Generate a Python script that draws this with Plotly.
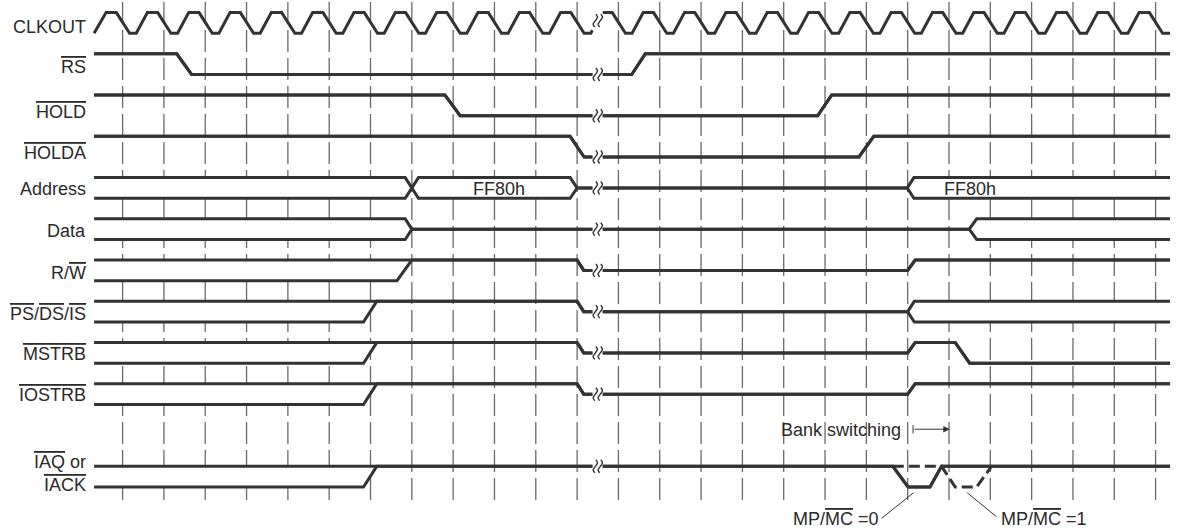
import math
import plotly.graph_objects as go

# ---------------- data (time in clock cycles, k = CLKOUT falling edge index) ----------------
N_CYCLES = 26            # dashed reference lines / clock edges at k = 0..25
T_START, T_END = -0.69, 25.35
BREAK_LO, BREAK_HI = 11.37, 11.62
BREAK_MARKS = [11.44, 11.56]

CLK_SHAPE_T = [-0.40, -0.15, 0.17, 0.33]
CLK_SHAPE_S = ["H", "H", "L", "L"]

RS_EDGES = [(1.31, 1.67), (12.32, 12.65)]
RS_STATES = ["H", "L", "H"]
HOLD_EDGES = [(7.80, 8.17), (16.82, 17.16)]
HOLD_STATES = ["H", "L", "H"]
HOLDA_EDGES = [(10.83, 11.17), (17.82, 18.18)]
HOLDA_STATES = ["H", "L", "H"]
ADDR_EDGES = [(6.84, 7.16), (10.83, 11.00), (18.99, 19.15)]
ADDR_STATES = ["X", "B", "Z", "B"]
ADDR_VALUES = ["FF80h", "FF80h"]
ADDR_VALUE_T = [9.11, 20.50]
DATA_EDGES = [(6.84, 7.00), (20.49, 20.67)]
DATA_STATES = ["X", "Z", "X"]
RW_EDGES = [(6.64, 7.00), (11.00, 11.16), (19.00, 19.18)]
RW_STATES = ["X", "H", "Z", "H"]
PS_EDGES = [(5.83, 6.15), (11.00, 11.16), (19.00, 19.16)]
PS_STATES = ["X", "H", "Z", "X"]
MSTRB_EDGES = [(5.83, 6.15), (11.00, 11.16), (19.00, 19.18), (20.15, 20.50)]
MSTRB_STATES = ["X", "H", "Z", "H", "L"]
IOSTRB_EDGES = [(5.83, 6.15), (11.00, 11.16), (19.00, 19.18)]
IOSTRB_STATES = ["X", "H", "Z", "H"]
IAQ_EDGES = [(5.83, 6.15), (18.64, 19.01), (19.54, 19.82)]
IAQ_STATES = ["X", "H", "L", "H"]
IAQ_ALT_T = [18.64, 19.82, 20.15, 20.67, 21.03]
IAQ_ALT_S = ["H", "H", "L", "L", "H"]

ROWS = [1, 2, 3, 4, 5, 6, 7, 8, 9, 11]
SIGNALS = [(RS_EDGES, RS_STATES), (HOLD_EDGES, HOLD_STATES), (HOLDA_EDGES, HOLDA_STATES),
           (ADDR_EDGES, ADDR_STATES), (DATA_EDGES, DATA_STATES), (RW_EDGES, RW_STATES),
           (PS_EDGES, PS_STATES), (MSTRB_EDGES, MSTRB_STATES), (IOSTRB_EDGES, IOSTRB_STATES),
           (IAQ_EDGES, IAQ_STATES)]

OV = '<span style="text-decoration:overline;text-decoration-thickness:2px">{}</span>'
LABELS = ["CLKOUT", OV.format("RS"), OV.format("HOLD"), OV.format("HOLDA"), "Address", "Data",
          "R/" + OV.format("W"),
          OV.format("PS") + "/" + OV.format("DS") + "/" + OV.format("IS"),
          OV.format("MSTRB"), OV.format("IOSTRB"), OV.format("IAQ") + " or", OV.format("IACK")]
LABEL_ROWS = [0, 1, 2, 3, 4, 5, 6, 7, 8, 9, 11, 11]

# ---------------- layout constants ----------------
LEVEL = {"H": 0.0, "L": 0.5, "Z": 0.25}
LABEL_DY = [0.342, 0.324, 0.402, 0.404, 0.288, 0.290, 0.313, 0.299, 0.269, 0.282, -0.105, 0.445]
LABEL_X = -0.83
INK = "#333333"
GRID = "#6a6a6a"
FONT = dict(family="Liberation Sans, Arial, sans-serif", size=18, color="#2a2a2a")
PX0, DX = 122.6, 41.32
PY0, DY = 12.6, 41.25
W, H = 1181, 531


def lv(row, s, which):
    if s in ("X", "B"):
        return row + (0.0 if which == 0 else 0.5)
    return row + LEVEL[s]


def build_paths(row, edges, states):
    ca, cb = lv(row, states[0], 0), lv(row, states[0], 1)
    a, b = [(T_START, ca)], [(T_START, cb)]
    for (t0, t1), sp, sn in zip(edges, states[:-1], states[1:]):
        if sp in ("X", "B") and sn in ("X", "B"):
            ta, tb = cb, ca
        else:
            ta, tb = lv(row, sn, 0), lv(row, sn, 1)
        a += [(t0, ca), (t1, ta)]
        b += [(t0, cb), (t1, tb)]
        ca, cb = ta, tb
    a.append((T_END, ca))
    b.append((T_END, cb))
    return a, b


def interp(pts, t):
    for (x0, y0), (x1, y1) in zip(pts[:-1], pts[1:]):
        if x0 <= t <= x1:
            if x1 == x0:
                return y1
            return y0 + (y1 - y0) * (t - x0) / (x1 - x0)
    return pts[-1][1]


def with_gap(pts):
    left = [p for p in pts if p[0] < BREAK_LO] + [(BREAK_LO, interp(pts, BREAK_LO))]
    right = [(BREAK_HI, interp(pts, BREAK_HI))] + [p for p in pts if p[0] > BREAK_HI]
    xs = [p[0] for p in left] + [None] + [p[0] for p in right]
    ys = [p[1] for p in left] + [None] + [p[1] for p in right]
    return xs, ys


fig = go.Figure()

# dashed cycle reference lines
gx, gy = [], []
for k in range(N_CYCLES):
    gx += [k, k, None]
    gy += [-0.26, 11.96, None]
fig.add_trace(go.Scatter(x=gx, y=gy, mode="lines", line=dict(color=GRID, width=1.3, dash="22px,6px"),
                         hoverinfo="skip"))

# clock
clk = [(T_START, LEVEL["L"])]
for k in range(N_CYCLES):
    for dt, s in zip(CLK_SHAPE_T, CLK_SHAPE_S):
        clk.append((k + dt, LEVEL[s]))
clk.append((T_END, LEVEL["L"]))

all_paths = [(0, [clk])]
for row, (edges, states) in zip(ROWS, SIGNALS):
    a, b = build_paths(row, edges, states)
    # white fill inside bus regions (hides reference lines)
    if any(s in ("X", "B") for s in states):
        poly = a + b[::-1]
        fig.add_trace(go.Scatter(x=[p[0] for p in poly], y=[p[1] for p in poly], mode="lines",
                                 fill="toself", fillcolor="white", line=dict(width=0, color="rgba(0,0,0,0)"),
                                 hoverinfo="skip"))
    all_paths.append((row, [a, b]))

break_marks_x, break_marks_y = [], []
for row, paths in all_paths:
    for p in paths:
        xs, ys = with_gap(p)
        fig.add_trace(go.Scatter(x=xs, y=ys, mode="lines", line=dict(color=INK, width=3),
                                 hoverinfo="skip"))
    yc = interp(paths[0], 0.5 * (BREAK_LO + BREAK_HI))
    for xm in BREAK_MARKS:
        n = 16
        for i in range(n + 1):
            s = i / n
            break_marks_x.append(xm + 0.045 * math.sin(2 * math.pi * s) + 0.03 * (0.5 - s))
            break_marks_y.append(yc - 0.16 + 0.32 * s)
        break_marks_x.append(None)
        break_marks_y.append(None)

fig.add_trace(go.Scatter(x=break_marks_x, y=break_marks_y, mode="lines",
                         line=dict(color=INK, width=1.4), hoverinfo="skip"))

# IAQ alternative (dashed) path
fig.add_trace(go.Scatter(x=IAQ_ALT_T, y=[11 + LEVEL[s] for s in IAQ_ALT_S], mode="lines",
                         line=dict(color=INK, width=3, dash="11px,5px"), hoverinfo="skip"))

# leader lines for MP/MC notes
fig.add_trace(go.Scatter(x=[18.37, 19.14, None, 21.15, 20.44], y=[12.26, 11.64, None, 12.22, 11.64],
                         mode="lines", line=dict(color=INK, width=1), hoverinfo="skip"))
# bank switching arrow tail bar
fig.add_trace(go.Scatter(x=[19.13, 19.13], y=[10.0, 10.2], mode="lines",
                         line=dict(color=INK, width=1), hoverinfo="skip"))

annotations = []
for text, row, dy in zip(LABELS, LABEL_ROWS, LABEL_DY):
    annotations.append(dict(x=LABEL_X, y=row + dy, text=text, showarrow=False, xanchor="right",
                            yanchor="middle", font=FONT))
for t, v in zip(ADDR_VALUE_T, ADDR_VALUES):
    annotations.append(dict(x=t, y=4.27, text=v, showarrow=False, xanchor="center",
                            yanchor="middle", font=FONT))
annotations.append(dict(x=18.89, y=10.12, text="Bank switching", showarrow=False, xanchor="right",
                        yanchor="middle", font=FONT))
annotations.append(dict(x=20.02, y=10.1, ax=19.13, ay=10.1, axref="x", ayref="y", text="",
                        showarrow=True, arrowhead=2, arrowsize=1.3, arrowwidth=1, arrowcolor=INK))
annotations.append(dict(x=18.35, y=12.28, text="MP/" + OV.format("MC") + " =0", showarrow=False,
                        xanchor="right", yanchor="middle", font=FONT))
annotations.append(dict(x=21.22, y=12.28, text="MP/" + OV.format("MC") + " =1", showarrow=False,
                        xanchor="left", yanchor="middle", font=FONT))

fig.update_layout(
    width=W, height=H, margin=dict(l=0, r=0, t=0, b=0),
    paper_bgcolor="white", plot_bgcolor="white", showlegend=False,
    xaxis=dict(visible=False, range=[(0 - PX0) / DX, (W - PX0) / DX], fixedrange=True),
    yaxis=dict(visible=False, range=[(H - PY0) / DY, (0 - PY0) / DY], fixedrange=True),
    annotations=annotations, hovermode=False,
)

fig.write_html("out.html", config={"displayModeBar": False},
               post_script="document.body.style.margin='0';document.body.style.overflow='hidden';")
